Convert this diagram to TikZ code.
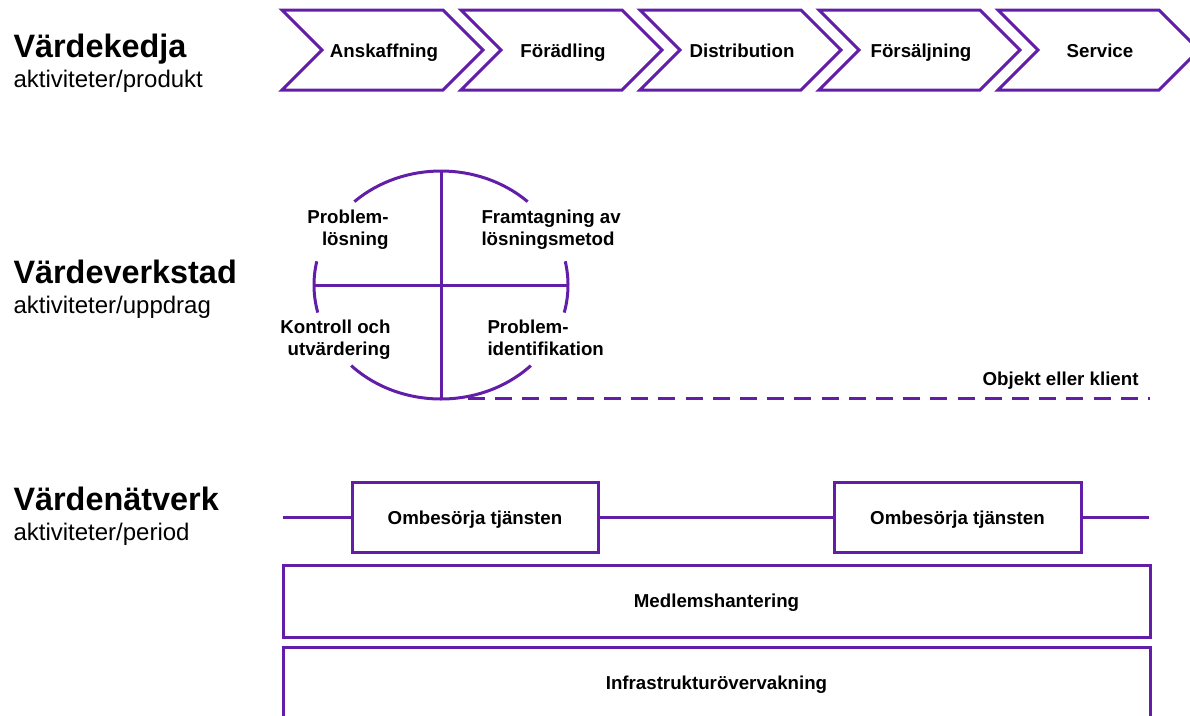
\documentclass[tikz,border=0pt]{standalone}
\usepackage{fontspec}
\setmainfont{Liberation Sans}
\definecolor{vio}{RGB}{98,30,168}
\begin{document}
\begin{tikzpicture}[x=1pt,y=-1pt,
  line width=3pt,
  lbl/.style={font=\fontsize{18.7}{22}\selectfont\bfseries, inner sep=0pt},
  ttl/.style={font=\fontsize{32.4}{36}\selectfont\bfseries, anchor=base west, inner sep=0pt},
  subttl/.style={font=\fontsize{24}{28}\selectfont, anchor=base west, inner sep=0pt},
  tbox/.style={draw=vio, line width=3pt, lbl, text height=13.4pt, text depth=0pt,
               minimum height=70pt},
  ]
\useasboundingbox (0,0) rectangle (1190,715);
\clip (0,0) rectangle (1190,715);

% row titles
\node[ttl]    (t1) at (12,57)  {Värdekedja};
\node[subttl] (s1) at (12,87)  {aktiviteter/produkt};
\node[ttl]    (t2) at (12,283) {Värdeverkstad};
\node[subttl] (s2) at (12,313) {aktiviteter/uppdrag};
\node[ttl]    (t3) at (12,510) {Värdenätverk};
\node[subttl] (s3) at (12,540) {aktiviteter/period};

% value chain: chevrons
\foreach \xs/\word/\nm in {282/Anskaffning/c1, 461/Förädling/c2, 640/Distribution/c3,
                          819/Försäljning/c4, 998/Service/c5}{
  \draw[vio, line join=miter] (\xs,10) -- ++(161,0) -- ++(40,40) -- ++(-40,40)
        -- ++(-161,0) -- ++(40,-40) -- cycle;
  \node[lbl, anchor=base] (\nm) at (\xs+102,57) {\word};
}

% value shop: split ellipse
\coordinate (o) at (441,285);
\draw[vio] (o) ++(227:127 and 114) arc[start angle=227, end angle=313, x radius=127, y radius=114];
\draw[vio] (o) ++(45:127 and 114)  arc[start angle=45,  end angle=135, x radius=127, y radius=114];
\draw[vio] (o) ++(166:127 and 114) arc[start angle=166, end angle=192, x radius=127, y radius=114];
\draw[vio] (o) ++(-12:127 and 114) arc[start angle=-12, end angle=14,  x radius=127, y radius=114];
\draw[vio] (o) ++(0,-114) -- ++(0,228);
\draw[vio] (o) ++(-127,0) -- ++(254,0);

% quadrant labels (base anchor sits on the last line)
\node[lbl, align=right, anchor=base east] (q1) at (390,245) {Problem-\\lösning};
\node[lbl, align=left,  anchor=base west] (q2) at (480,245) {Framtagning av\\lösningsmetod};
\node[lbl, align=right, anchor=base east] (q3) at (392,355) {Kontroll och\\utvärdering};
\node[lbl, align=left,  anchor=base west] (q4) at (486,355) {Problem-\\identifikation};

\coordinate (d0) at (468,398);
\coordinate (d1) at (1150,398);
\draw[vio, dash pattern=on 17pt off 10.2pt] (d0) -- (d1);
\node[lbl, anchor=base east] (obj) at (1140,385) {Objekt eller klient};

% value network
\node[tbox, minimum width=246pt] (b1) at (475,517.5) {Ombesörja tjänsten};
\node[tbox, minimum width=247pt] (b2) at (957.5,517.5) {Ombesörja tjänsten};
\coordinate (l0) at (283,517.5);
\coordinate (l1) at (1149,517.5);
\draw[vio] (l0) -- (b1.west);
\draw[vio] (b1.east) -- (b2.west);
\draw[vio] (b2.east) -- (l1);

\node[tbox, minimum width=867pt, minimum height=72pt] (m)   at (716.5,601) {Medlemshantering};
\node[tbox, minimum width=867pt, minimum height=72pt] (inf) at (716.5,683) {Infrastrukturövervakning};
\end{tikzpicture}
\end{document}
